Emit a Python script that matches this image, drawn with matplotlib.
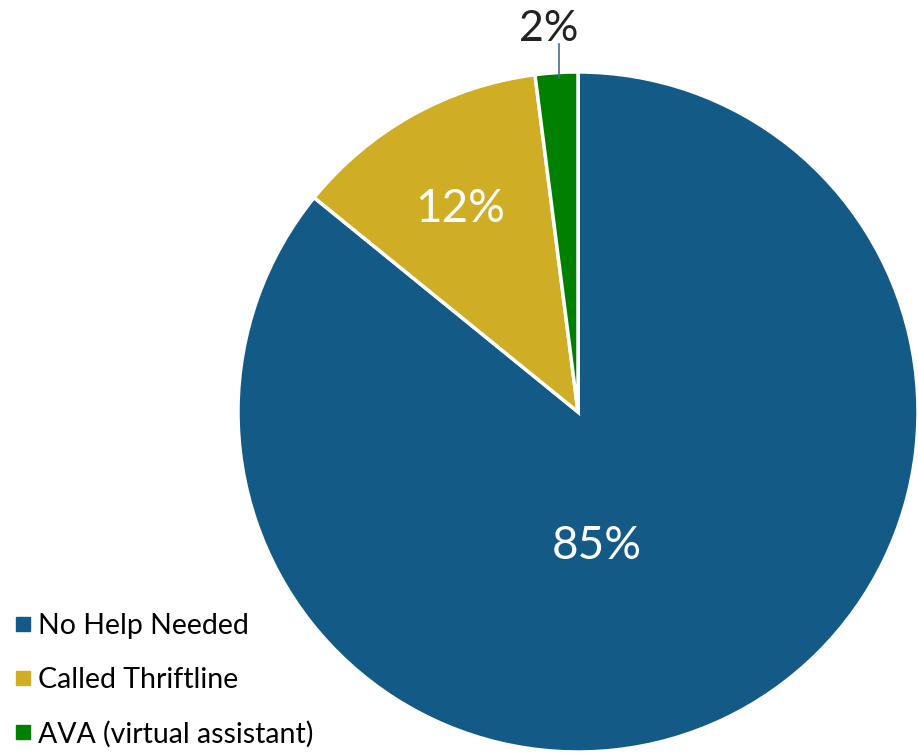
import matplotlib
matplotlib.use("Agg")
import matplotlib.pyplot as plt
from matplotlib.lines import Line2D

categorias = ["No Help Needed", "Called Thriftline", "AVA (virtual assistant)"]
porcentajes = [85, 12, 2]
colores = ["#135A86", "#CFAE25", "#008000"]

plt.rcParams["font.family"] = ["Lato", "DejaVu Sans"]

fig = plt.figure(figsize=(9.18, 7.54), dpi=100)
ax = fig.add_axes([0, 0, 1, 1])

# trabajamos en pixeles con el origen abajo a la izquierda
cx, cy, r = 578, 342, 340
wedges, _ = ax.pie(porcentajes, colors=colores, startangle=90, counterclock=False,
                   center=(cx, cy), radius=r, frame=True,
                   wedgeprops=dict(edgecolor="white", linewidth=2.5))
ax.set_xlim(0, 918)
ax.set_ylim(0, 754)
ax.set_aspect("equal")
ax.axis("off")

# etiquetas de porcentaje
ax.text(597, 208, f"{porcentajes[0]}%", color="white", fontsize=33, ha="center", va="center")
ax.text(460, 545, f"{porcentajes[1]}%", color="white", fontsize=33, ha="center", va="center")
ax.text(549, 725, f"{porcentajes[2]}%", color="#222222", fontsize=31, ha="center", va="center")
ax.plot([559, 559], [710, 676], color="#3F6E96", linewidth=1.2)

handles = [Line2D([], [], marker="s", linestyle="none", markersize=10, color=c) for c in colores]
leg = ax.legend(handles, categorias, loc="lower left", bbox_to_anchor=(-0.0095, -0.0175),
                frameon=False, fontsize=20.5, handletextpad=0.15, labelspacing=0.97,
                borderaxespad=0.3, handlelength=0.8)

fig.savefig("out.png", dpi=100)
